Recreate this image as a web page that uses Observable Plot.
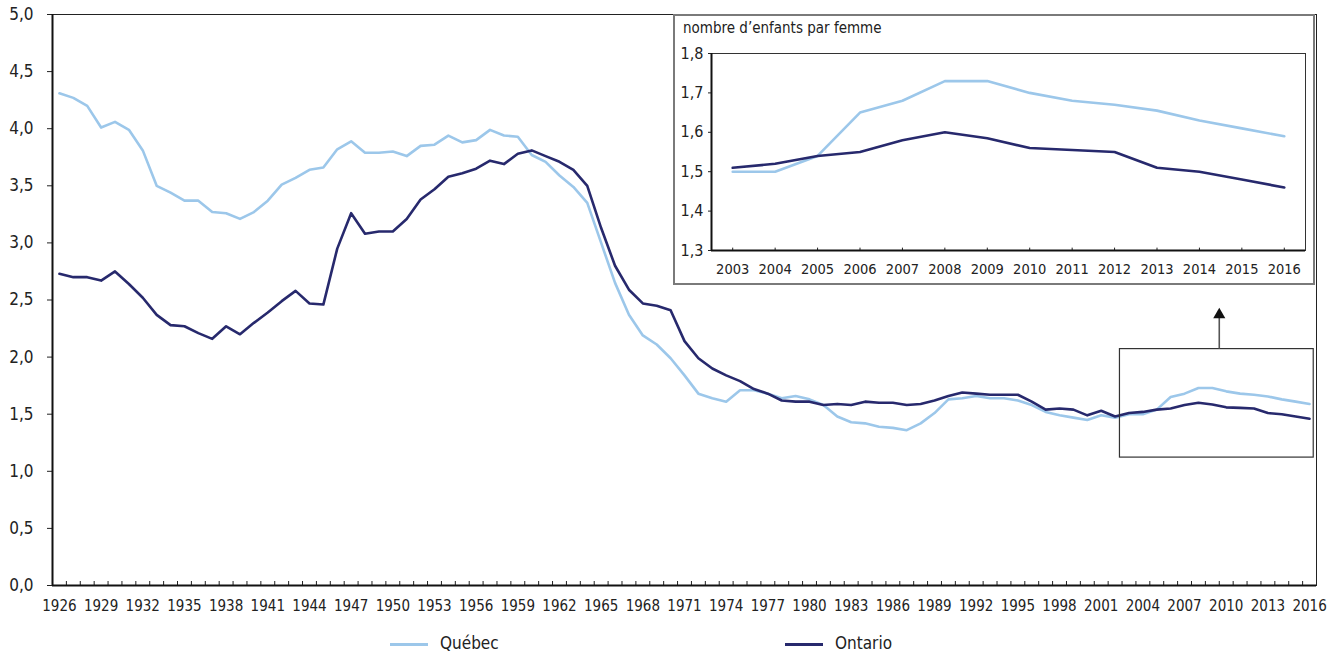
<!DOCTYPE html>
<html>
<head>
<meta charset="utf-8">
<script src="https://cdn.jsdelivr.net/npm/d3@7"></script>
<script src="https://cdn.jsdelivr.net/npm/@observablehq/plot@0.6"></script>
<style>
  html, body { margin: 0; padding: 0; background: #fff; }
  body { font-family: "Liberation Sans Narrow", "DejaVu Sans Condensed", "Arial Narrow", sans-serif; color: #222; }
  #wrap { position: relative; width: 1330px; height: 655px; }
  #inset { position: absolute; left: 673px; top: 14px; width: 642px; height: 271px; box-sizing: border-box; border: 2px solid #7a7a7a; background: #fff; }
  #insetTitle { position: absolute; left: 8px; top: 3px; font-size: 15px; color: #222; }
  #legend { position: absolute; left: 0; top: 622px; width: 1330px; height: 33px; }
  .sw { position: absolute; top: 21px; width: 38px; height: 3px; }
  .lt { position: absolute; top: 11px; font-size: 17px; color: #222; }
</style>
</head>
<body>
<div id="wrap">
  <div id="main"></div>
  <div id="inset"><div id="insetTitle">nombre d’enfants par femme</div><div id="insetPlot"></div></div>
  <div id="legend">
    <div class="sw" style="left:390px;background:#9cc7ea"></div><div class="lt" style="left:440px">Québec</div>
    <div class="sw" style="left:785px;background:#27296d"></div><div class="lt" style="left:835px">Ontario</div>
  </div>
</div>
<script>
const years = d3.range(1926, 2017);
const quebec = [
  4.31, 4.27, 4.20, 4.01, 4.06, 3.99, 3.81, 3.50, 3.44, 3.37,
  3.37, 3.27, 3.26, 3.21, 3.27, 3.37, 3.51, 3.57, 3.64, 3.66,
  3.82, 3.89, 3.79, 3.79, 3.80, 3.76, 3.85, 3.86, 3.94, 3.88,
  3.90, 3.99, 3.94, 3.93, 3.77, 3.71, 3.59, 3.49, 3.35, 3.00,
  2.65, 2.37, 2.19, 2.11, 1.99, 1.84, 1.68, 1.64, 1.61, 1.71,
  1.71, 1.68, 1.64, 1.66, 1.63, 1.58, 1.48, 1.43, 1.42, 1.39,
  1.38, 1.36, 1.42, 1.51, 1.63, 1.64, 1.66, 1.64, 1.64, 1.62,
  1.58, 1.52, 1.49, 1.47, 1.45, 1.49, 1.47, 1.50, 1.50, 1.54,
  1.65, 1.68, 1.73, 1.73, 1.70, 1.68, 1.67, 1.655, 1.63, 1.61,
  1.59
];
const ontario = [
  2.73, 2.70, 2.70, 2.67, 2.75, 2.64, 2.52, 2.37, 2.28, 2.27,
  2.21, 2.16, 2.27, 2.20, 2.30, 2.39, 2.49, 2.58, 2.47, 2.46,
  2.95, 3.26, 3.08, 3.10, 3.10, 3.21, 3.38, 3.47, 3.58, 3.61,
  3.65, 3.72, 3.69, 3.78, 3.81, 3.76, 3.71, 3.64, 3.50, 3.13,
  2.80, 2.59, 2.47, 2.45, 2.41, 2.14, 1.99, 1.90, 1.84, 1.79,
  1.72, 1.68, 1.62, 1.61, 1.61, 1.58, 1.59, 1.58, 1.61, 1.60,
  1.60, 1.58, 1.59, 1.62, 1.66, 1.69, 1.68, 1.67, 1.67, 1.67,
  1.61, 1.54, 1.55, 1.54, 1.49, 1.53, 1.48, 1.51, 1.52, 1.54,
  1.55, 1.58, 1.60, 1.585, 1.56, 1.555, 1.55, 1.51, 1.50, 1.48,
  1.46
];
const seriesNames = ["Québec", "Ontario"];
const colors = ["#9cc7ea", "#27296d"];
const mainYTicks = [0, 0.5, 1, 1.5, 2, 2.5, 3, 3.5, 4, 4.5, 5];
const mainXTicks = d3.range(1926, 2017, 3);
const insetYears = d3.range(2003, 2017);
const insetYTicks = [1.3, 1.4, 1.5, 1.6, 1.7, 1.8];
// annotation (data units): zoom rectangle and arrow
const zoomBox = [{x1: 2002.35, x2: 2016.3, y1: 1.12, y2: 2.07}];
const arrow = [{x: 2009.5, y1: 2.07, y2: 2.37}];

const fmt = d => d.toFixed(1).replace(".", ",");
const rows = [];
years.forEach((yr, i) => {
  rows.push({year: yr, value: quebec[i], series: seriesNames[0]});
  rows.push({year: yr, value: ontario[i], series: seriesNames[1]});
});
const qRows = rows.filter(d => d.series === seriesNames[0]);
const oRows = rows.filter(d => d.series === seriesNames[1]);
const font = '"Liberation Sans Narrow", "DejaVu Sans Condensed", "Arial Narrow", sans-serif';

const main = Plot.plot({
  width: 1330,
  height: 622,
  marginLeft: 52,
  marginRight: 14,
  marginTop: 14,
  marginBottom: 37,
  style: {fontFamily: font, fontSize: "16px", color: "#222", background: "#fff"},
  x: {domain: [1925.5, 2016.5]},
  y: {domain: [0, 5]},
  marks: [
    Plot.frame({stroke: "#222", strokeWidth: 1}),
    Plot.axisY({ticks: mainYTicks, tickSize: 5, tickPadding: 14, tickFormat: fmt, fontSize: 17, label: null, stroke: "#222"}),
    Plot.axisX({ticks: mainXTicks, tickSize: 0, tickPadding: 15, tickFormat: d => String(d), fontSize: 15, label: null}),
    Plot.ruleX(d3.range(1926.5, 2016, 1), {y1: 0, y2: 0.035, stroke: "#222", strokeWidth: 1}),
    Plot.ruleX([1925.5], {stroke: "#111", strokeWidth: 2}),
    Plot.ruleY([0], {stroke: "#111", strokeWidth: 2}),
    Plot.line(qRows, {x: "year", y: "value", stroke: colors[0], strokeWidth: 2.6}),
    Plot.line(oRows, {x: "year", y: "value", stroke: colors[1], strokeWidth: 2.6}),
    Plot.rect(zoomBox, {x1: "x1", x2: "x2", y1: "y1", y2: "y2", fill: "none", stroke: "#333", strokeWidth: 1.2}),
    Plot.ruleX(arrow, {x: "x", y1: "y1", y2: "y2", stroke: "#555", strokeWidth: 1.6}),
    Plot.dot(arrow, {x: "x", y: "y2", symbol: "triangle", r: 4.5, fill: "#111", stroke: "none"})
  ]
});
document.getElementById("main").appendChild(main);

const iq = qRows.filter(d => d.year >= 2003);
const io = oRows.filter(d => d.year >= 2003);
const inset = Plot.plot({
  width: 638,
  height: 267,
  marginLeft: 36,
  marginRight: 8,
  marginTop: 37,
  marginBottom: 33,
  style: {fontFamily: font, fontSize: "15px", color: "#222", background: "#fff"},
  x: {domain: [2002.5, 2016.5]},
  y: {domain: [1.3, 1.8]},
  marks: [
    Plot.frame({stroke: "#333", strokeWidth: 1}),
    Plot.axisY({ticks: insetYTicks, tickSize: 3, tickPadding: 5, tickFormat: fmt, fontSize: 16, label: null}),
    Plot.axisX({ticks: insetYears, tickSize: 0, tickPadding: 13, tickFormat: d => String(d), fontSize: 14.5, label: null}),
    Plot.ruleX(insetYears, {y1: 1.3, y2: 1.306, stroke: "#222", strokeWidth: 1}),
    Plot.ruleX([2002.5], {stroke: "#111", strokeWidth: 2}),
    Plot.ruleY([1.3], {stroke: "#111", strokeWidth: 2}),
    Plot.line(iq, {x: "year", y: "value", stroke: colors[0], strokeWidth: 2.6}),
    Plot.line(io, {x: "year", y: "value", stroke: colors[1], strokeWidth: 2.6})
  ]
});
document.getElementById("insetPlot").appendChild(inset);
</script>
</body>
</html>
